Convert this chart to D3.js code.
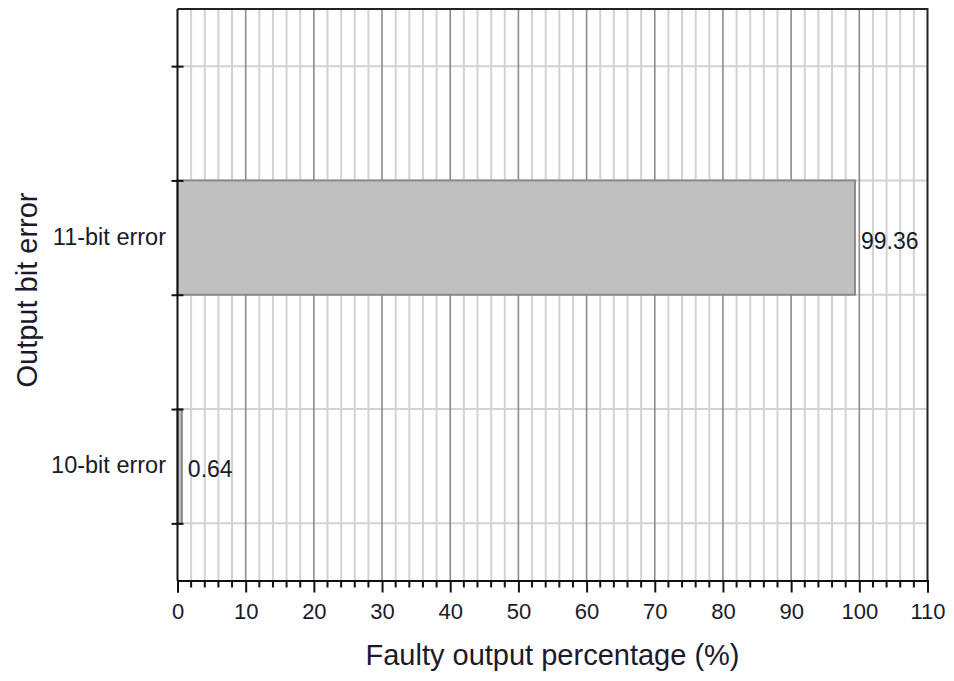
<!DOCTYPE html>
<html>
<head>
<meta charset="utf-8">
<script src="https://cdn.jsdelivr.net/npm/d3@7"></script>
<style>
  body { margin: 0; background: #fff; }
  text { font-family: "Liberation Sans", Arial, sans-serif; }
</style>
</head>
<body>
<svg id="chart" width="954" height="681"></svg>
<script>
const categories = ["11-bit error", "10-bit error"];
const values = [99.36, 0.64];
const valueLabels = ["99.36", "0.64"];
const xTicks = [0, 10, 20, 30, 40, 50, 60, 70, 80, 90, 100, 110];
const xTitle = "Faulty output percentage (%)";
const yTitle = "Output bit error";

const svg = d3.select("#chart");
const pLeft = 177.5, pRight = 927.5, pTop = 9, pBottom = 580.5;
const textColor = "#1a1a2a";

const x = d3.scaleLinear().domain([0, 110]).range([pLeft, pRight]);
// category slots: position index+1 on a linear scale from 0 to 2.5
const y = d3.scaleLinear().domain([0, 2.5]).range([pTop, pBottom]);
const half = 0.25;
const yTickVals = [0.25, 0.75, 1.25, 1.75, 2.25];

const minorTicks = d3.range(0, 111, 2).filter(v => v % 10 !== 0);

// minor vertical gridlines
svg.append("g").selectAll("line").data(minorTicks).join("line")
  .attr("x1", d => x(d)).attr("x2", d => x(d))
  .attr("y1", pTop).attr("y2", pBottom)
  .attr("stroke", "#d2d2d2").attr("stroke-width", 2);

// horizontal gridlines
svg.append("g").selectAll("line").data(yTickVals).join("line")
  .attr("x1", pLeft).attr("x2", pRight)
  .attr("y1", d => y(d)).attr("y2", d => y(d))
  .attr("stroke", "#d2d2d2").attr("stroke-width", 2);

// major vertical gridlines
svg.append("g").selectAll("line").data(xTicks.slice(1, -1)).join("line")
  .attr("x1", d => x(d)).attr("x2", d => x(d))
  .attr("y1", pTop).attr("y2", pBottom)
  .attr("stroke", "#8c8c8c").attr("stroke-width", 1.6);

// bars
svg.append("g").selectAll("rect").data(categories).join("rect")
  .attr("x", x(0))
  .attr("y", (d, i) => y(i + 1 - half))
  .attr("width", (d, i) => x(values[i]) - x(0))
  .attr("height", y(2 * half) - y(0))
  .attr("fill", "#c0c0c0")
  .attr("stroke", "#8a8a8a").attr("stroke-width", 2);

// value labels
svg.append("g").selectAll("text").data(categories).join("text")
  .attr("x", (d, i) => x(values[i]) + 6)
  .attr("y", (d, i) => y(i + 1) + 11)
  .attr("font-size", 23).attr("fill", textColor)
  .text((d, i) => valueLabels[i]);

// plot frame (top & right)
svg.append("path")
  .attr("d", `M${pLeft},${pTop}H${pRight}V${pBottom}`)
  .attr("fill", "none").attr("stroke", "#222").attr("stroke-width", 2);

// x axis
const xAxis = svg.append("g").attr("transform", `translate(0,${pBottom})`)
  .call(d3.axisBottom(x).tickValues(xTicks).tickSize(12).tickFormat(d3.format("d")));
xAxis.select(".domain").attr("stroke", "#111").attr("stroke-width", 2);
xAxis.selectAll(".tick line").attr("stroke", "#111").attr("stroke-width", 2);
xAxis.selectAll(".tick text").attr("font-size", 22).attr("fill", textColor)
  .attr("font-family", "Liberation Sans, Arial, sans-serif")
  .attr("y", 38.5).attr("dy", 0);
xAxis.append("g").selectAll("line").data(minorTicks).join("line")
  .attr("x1", d => x(d)).attr("x2", d => x(d))
  .attr("y1", 0).attr("y2", 7)
  .attr("stroke", "#111").attr("stroke-width", 2);

// y axis
const yAxis = svg.append("g").attr("transform", `translate(${pLeft},0)`)
  .call(d3.axisLeft(y).tickValues(yTickVals).tickSize(6).tickFormat(""));
yAxis.select(".domain").attr("d", `M0,${pTop}V${pBottom}`).attr("stroke", "#111").attr("stroke-width", 2);
yAxis.selectAll(".tick line").attr("x2", -6).attr("x1", 6).attr("stroke", "#111").attr("stroke-width", 2);

// category labels
svg.append("g").selectAll("text").data(categories).join("text")
  .attr("x", 166)
  .attr("y", (d, i) => y(i + 1) + 7)
  .attr("text-anchor", "end")
  .attr("font-size", 23.5).attr("fill", textColor)
  .text(d => d);

// axis titles
svg.append("text")
  .attr("x", (pLeft + pRight) / 2).attr("y", 665)
  .attr("text-anchor", "middle").attr("font-size", 29).attr("fill", textColor)
  .text(xTitle);
svg.append("text")
  .attr("transform", `translate(37,290) rotate(-90)`)
  .attr("text-anchor", "middle").attr("font-size", 29).attr("fill", textColor)
  .text(yTitle);
</script>
</body>
</html>
